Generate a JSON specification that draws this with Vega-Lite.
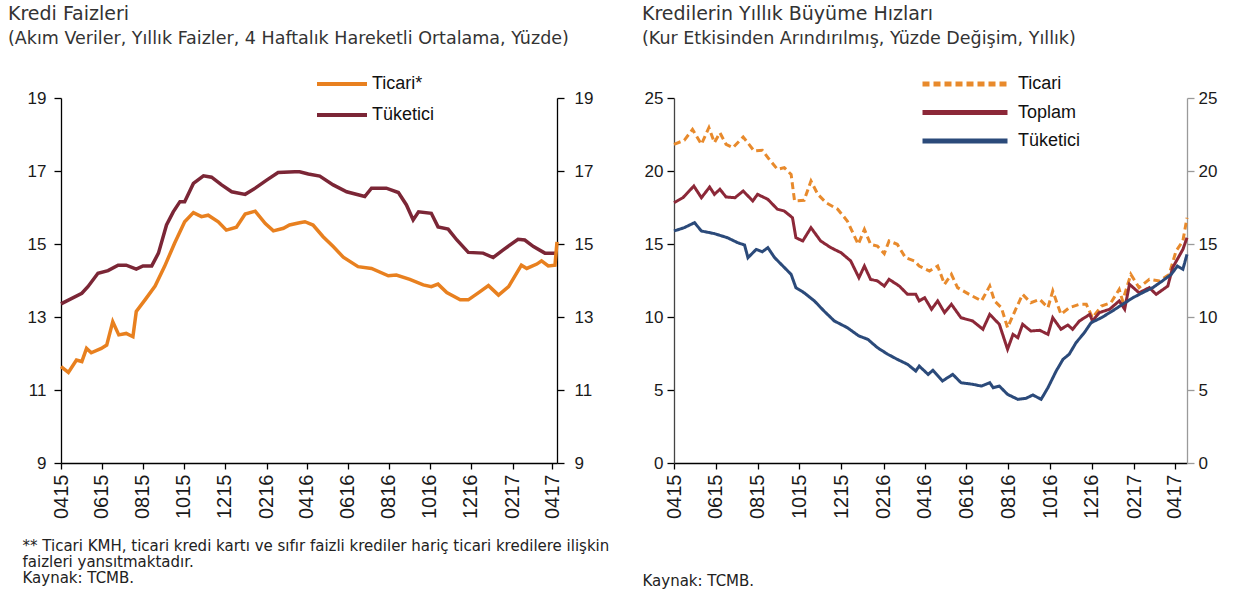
{
  "$schema": "https://vega.github.io/schema/vega-lite/v6.json",
  "background": "#ffffff",
  "autosize": {"type": "pad"},
  "padding": {"left": 8, "top": 4, "right": 5, "bottom": 5},
  "config": {
    "view": {"stroke": null},
    "concat": {"spacing": 117},
    "axis": {"grid": false, "labelFont": "Liberation Sans", "labelFontSize": 17, "labelColor": "#1a1a1a", "domainColor": "#000000", "tickColor": "#000000", "domainWidth": 1.3, "tickWidth": 1.3},
    "title": {"font": "DejaVu Sans", "subtitleFont": "DejaVu Sans", "fontWeight": "normal", "fontSize": 19, "subtitleFontSize": 17.5, "color": "#333333", "subtitleColor": "#333333", "anchor": "start", "frame": "group"}
  },
  "bounds": "flush",
  "resolve": {"scale": {"color": "independent", "strokeDash": "independent"}, "legend": {"color": "independent", "strokeDash": "independent"}},
  "datasets": {
    "faiz": [
      {"date": "2015-04-01", "series": "Tüketici", "value": 13.36},
      {"date": "2015-05-02", "series": "Tüketici", "value": 13.65},
      {"date": "2015-05-11", "series": "Tüketici", "value": 13.83},
      {"date": "2015-05-26", "series": "Tüketici", "value": 14.2},
      {"date": "2015-06-10", "series": "Tüketici", "value": 14.27},
      {"date": "2015-06-25", "series": "Tüketici", "value": 14.42},
      {"date": "2015-07-07", "series": "Tüketici", "value": 14.42},
      {"date": "2015-07-22", "series": "Tüketici", "value": 14.31},
      {"date": "2015-08-01", "series": "Tüketici", "value": 14.4},
      {"date": "2015-08-14", "series": "Tüketici", "value": 14.4},
      {"date": "2015-08-24", "series": "Tüketici", "value": 14.75},
      {"date": "2015-09-05", "series": "Tüketici", "value": 15.52},
      {"date": "2015-09-15", "series": "Tüketici", "value": 15.88},
      {"date": "2015-09-25", "series": "Tüketici", "value": 16.16},
      {"date": "2015-10-02", "series": "Tüketici", "value": 16.16},
      {"date": "2015-10-15", "series": "Tüketici", "value": 16.66},
      {"date": "2015-10-30", "series": "Tüketici", "value": 16.87},
      {"date": "2015-11-11", "series": "Tüketici", "value": 16.83},
      {"date": "2015-11-26", "series": "Tüketici", "value": 16.62},
      {"date": "2015-12-11", "series": "Tüketici", "value": 16.43},
      {"date": "2015-12-31", "series": "Tüketici", "value": 16.36},
      {"date": "2016-01-15", "series": "Tüketici", "value": 16.53},
      {"date": "2016-02-01", "series": "Tüketici", "value": 16.75},
      {"date": "2016-02-18", "series": "Tüketici", "value": 16.96},
      {"date": "2016-03-14", "series": "Tüketici", "value": 16.98},
      {"date": "2016-03-21", "series": "Tüketici", "value": 16.98},
      {"date": "2016-04-03", "series": "Tüketici", "value": 16.92},
      {"date": "2016-04-20", "series": "Tüketici", "value": 16.86},
      {"date": "2016-05-10", "series": "Tüketici", "value": 16.62},
      {"date": "2016-05-30", "series": "Tüketici", "value": 16.43},
      {"date": "2016-06-26", "series": "Tüketici", "value": 16.3},
      {"date": "2016-07-06", "series": "Tüketici", "value": 16.53},
      {"date": "2016-07-28", "series": "Tüketici", "value": 16.53},
      {"date": "2016-08-15", "series": "Tüketici", "value": 16.41},
      {"date": "2016-08-27", "series": "Tüketici", "value": 16.07},
      {"date": "2016-09-06", "series": "Tüketici", "value": 15.66},
      {"date": "2016-09-14", "series": "Tüketici", "value": 15.88},
      {"date": "2016-10-03", "series": "Tüketici", "value": 15.84},
      {"date": "2016-10-13", "series": "Tüketici", "value": 15.47},
      {"date": "2016-10-28", "series": "Tüketici", "value": 15.41},
      {"date": "2016-11-10", "series": "Tüketici", "value": 15.11},
      {"date": "2016-11-27", "series": "Tüketici", "value": 14.77},
      {"date": "2016-12-19", "series": "Tüketici", "value": 14.75},
      {"date": "2017-01-03", "series": "Tüketici", "value": 14.63},
      {"date": "2017-01-18", "series": "Tüketici", "value": 14.84},
      {"date": "2017-02-09", "series": "Tüketici", "value": 15.13},
      {"date": "2017-02-19", "series": "Tüketici", "value": 15.11},
      {"date": "2017-03-04", "series": "Tüketici", "value": 14.93},
      {"date": "2017-03-21", "series": "Tüketici", "value": 14.75},
      {"date": "2017-04-08", "series": "Tüketici", "value": 14.75},
      {"date": "2015-04-01", "series": "Ticari*", "value": 11.64},
      {"date": "2015-04-12", "series": "Ticari*", "value": 11.48},
      {"date": "2015-04-24", "series": "Ticari*", "value": 11.82},
      {"date": "2015-05-02", "series": "Ticari*", "value": 11.78},
      {"date": "2015-05-09", "series": "Ticari*", "value": 12.14},
      {"date": "2015-05-16", "series": "Ticari*", "value": 12.02},
      {"date": "2015-05-31", "series": "Ticari*", "value": 12.14},
      {"date": "2015-06-08", "series": "Ticari*", "value": 12.23},
      {"date": "2015-06-17", "series": "Ticari*", "value": 12.87},
      {"date": "2015-06-26", "series": "Ticari*", "value": 12.51},
      {"date": "2015-07-07", "series": "Ticari*", "value": 12.55},
      {"date": "2015-07-17", "series": "Ticari*", "value": 12.46},
      {"date": "2015-07-22", "series": "Ticari*", "value": 13.15},
      {"date": "2015-08-04", "series": "Ticari*", "value": 13.47},
      {"date": "2015-08-19", "series": "Ticari*", "value": 13.85},
      {"date": "2015-09-02", "series": "Ticari*", "value": 14.38},
      {"date": "2015-09-17", "series": "Ticari*", "value": 15.02},
      {"date": "2015-10-02", "series": "Ticari*", "value": 15.61},
      {"date": "2015-10-15", "series": "Ticari*", "value": 15.86},
      {"date": "2015-10-27", "series": "Ticari*", "value": 15.75},
      {"date": "2015-11-06", "series": "Ticari*", "value": 15.79},
      {"date": "2015-11-21", "series": "Ticari*", "value": 15.61},
      {"date": "2015-12-03", "series": "Ticari*", "value": 15.38},
      {"date": "2015-12-18", "series": "Ticari*", "value": 15.46},
      {"date": "2015-12-31", "series": "Ticari*", "value": 15.82},
      {"date": "2016-01-15", "series": "Ticari*", "value": 15.9},
      {"date": "2016-01-30", "series": "Ticari*", "value": 15.56},
      {"date": "2016-02-11", "series": "Ticari*", "value": 15.36},
      {"date": "2016-02-26", "series": "Ticari*", "value": 15.43},
      {"date": "2016-03-06", "series": "Ticari*", "value": 15.52},
      {"date": "2016-03-21", "series": "Ticari*", "value": 15.58},
      {"date": "2016-03-29", "series": "Ticari*", "value": 15.61},
      {"date": "2016-04-10", "series": "Ticari*", "value": 15.52},
      {"date": "2016-04-25", "series": "Ticari*", "value": 15.2},
      {"date": "2016-05-10", "series": "Ticari*", "value": 14.93},
      {"date": "2016-05-25", "series": "Ticari*", "value": 14.64},
      {"date": "2016-06-16", "series": "Ticari*", "value": 14.38},
      {"date": "2016-07-06", "series": "Ticari*", "value": 14.33},
      {"date": "2016-07-31", "series": "Ticari*", "value": 14.13},
      {"date": "2016-08-12", "series": "Ticari*", "value": 14.15},
      {"date": "2016-09-01", "series": "Ticari*", "value": 14.03},
      {"date": "2016-09-21", "series": "Ticari*", "value": 13.88},
      {"date": "2016-10-03", "series": "Ticari*", "value": 13.83},
      {"date": "2016-10-13", "series": "Ticari*", "value": 13.9},
      {"date": "2016-10-26", "series": "Ticari*", "value": 13.67},
      {"date": "2016-11-15", "series": "Ticari*", "value": 13.47},
      {"date": "2016-11-27", "series": "Ticari*", "value": 13.47},
      {"date": "2016-12-14", "series": "Ticari*", "value": 13.69},
      {"date": "2016-12-27", "series": "Ticari*", "value": 13.86},
      {"date": "2017-01-11", "series": "Ticari*", "value": 13.6},
      {"date": "2017-01-26", "series": "Ticari*", "value": 13.83},
      {"date": "2017-02-14", "series": "Ticari*", "value": 14.42},
      {"date": "2017-02-22", "series": "Ticari*", "value": 14.33},
      {"date": "2017-03-09", "series": "Ticari*", "value": 14.45},
      {"date": "2017-03-16", "series": "Ticari*", "value": 14.54},
      {"date": "2017-03-26", "series": "Ticari*", "value": 14.4},
      {"date": "2017-04-05", "series": "Ticari*", "value": 14.42},
      {"date": "2017-04-08", "series": "Ticari*", "value": 15.06}
    ],
    "buyume": [
      {"date": "2015-04-01", "series": "Ticari", "value": 21.83},
      {"date": "2015-04-16", "series": "Ticari", "value": 22.1},
      {"date": "2015-04-28", "series": "Ticari", "value": 22.85},
      {"date": "2015-05-11", "series": "Ticari", "value": 21.83},
      {"date": "2015-05-22", "series": "Ticari", "value": 22.97},
      {"date": "2015-05-30", "series": "Ticari", "value": 21.94},
      {"date": "2015-06-07", "series": "Ticari", "value": 22.62},
      {"date": "2015-06-16", "series": "Ticari", "value": 21.83},
      {"date": "2015-06-26", "series": "Ticari", "value": 21.6},
      {"date": "2015-07-11", "series": "Ticari", "value": 22.33},
      {"date": "2015-07-27", "series": "Ticari", "value": 21.37},
      {"date": "2015-08-08", "series": "Ticari", "value": 21.42},
      {"date": "2015-08-18", "series": "Ticari", "value": 20.8},
      {"date": "2015-08-30", "series": "Ticari", "value": 20.12},
      {"date": "2015-09-09", "series": "Ticari", "value": 20.23},
      {"date": "2015-09-19", "series": "Ticari", "value": 19.77},
      {"date": "2015-09-24", "series": "Ticari", "value": 17.95},
      {"date": "2015-10-08", "series": "Ticari", "value": 17.99},
      {"date": "2015-10-18", "series": "Ticari", "value": 19.32},
      {"date": "2015-10-28", "series": "Ticari", "value": 18.4},
      {"date": "2015-11-09", "series": "Ticari", "value": 17.83},
      {"date": "2015-11-26", "series": "Ticari", "value": 17.38},
      {"date": "2015-12-10", "series": "Ticari", "value": 16.58},
      {"date": "2015-12-26", "series": "Ticari", "value": 14.98},
      {"date": "2016-01-04", "series": "Ticari", "value": 16.0},
      {"date": "2016-01-13", "series": "Ticari", "value": 14.98},
      {"date": "2016-01-23", "series": "Ticari", "value": 14.86},
      {"date": "2016-02-02", "series": "Ticari", "value": 14.34},
      {"date": "2016-02-09", "series": "Ticari", "value": 15.21},
      {"date": "2016-02-21", "series": "Ticari", "value": 14.98},
      {"date": "2016-03-04", "series": "Ticari", "value": 14.06},
      {"date": "2016-03-17", "series": "Ticari", "value": 13.84},
      {"date": "2016-03-24", "series": "Ticari", "value": 13.49},
      {"date": "2016-04-08", "series": "Ticari", "value": 13.15},
      {"date": "2016-04-20", "series": "Ticari", "value": 13.49},
      {"date": "2016-04-30", "series": "Ticari", "value": 12.24},
      {"date": "2016-05-10", "series": "Ticari", "value": 12.92},
      {"date": "2016-05-19", "series": "Ticari", "value": 12.01},
      {"date": "2016-06-05", "series": "Ticari", "value": 11.55},
      {"date": "2016-06-23", "series": "Ticari", "value": 11.1},
      {"date": "2016-07-05", "series": "Ticari", "value": 12.12},
      {"date": "2016-07-12", "series": "Ticari", "value": 11.1},
      {"date": "2016-07-22", "series": "Ticari", "value": 10.64},
      {"date": "2016-07-31", "series": "Ticari", "value": 9.27},
      {"date": "2016-08-13", "series": "Ticari", "value": 10.64},
      {"date": "2016-08-22", "series": "Ticari", "value": 11.55},
      {"date": "2016-09-03", "series": "Ticari", "value": 10.98},
      {"date": "2016-09-16", "series": "Ticari", "value": 11.21},
      {"date": "2016-09-28", "series": "Ticari", "value": 10.64},
      {"date": "2016-10-05", "series": "Ticari", "value": 11.78},
      {"date": "2016-10-17", "series": "Ticari", "value": 10.18},
      {"date": "2016-10-29", "series": "Ticari", "value": 10.64},
      {"date": "2016-11-13", "series": "Ticari", "value": 10.87},
      {"date": "2016-11-23", "series": "Ticari", "value": 10.87},
      {"date": "2016-12-02", "series": "Ticari", "value": 9.95},
      {"date": "2016-12-15", "series": "Ticari", "value": 10.75},
      {"date": "2016-12-29", "series": "Ticari", "value": 10.98},
      {"date": "2017-01-10", "series": "Ticari", "value": 11.89},
      {"date": "2017-01-15", "series": "Ticari", "value": 11.1},
      {"date": "2017-01-27", "series": "Ticari", "value": 12.92},
      {"date": "2017-02-08", "series": "Ticari", "value": 12.01},
      {"date": "2017-02-23", "series": "Ticari", "value": 12.58},
      {"date": "2017-03-10", "series": "Ticari", "value": 12.47},
      {"date": "2017-03-24", "series": "Ticari", "value": 12.92},
      {"date": "2017-04-03", "series": "Ticari", "value": 14.52},
      {"date": "2017-04-13", "series": "Ticari", "value": 15.21},
      {"date": "2017-04-19", "series": "Ticari", "value": 16.8},
      {"date": "2015-04-01", "series": "Toplam", "value": 17.83},
      {"date": "2015-04-14", "series": "Toplam", "value": 18.17},
      {"date": "2015-04-30", "series": "Toplam", "value": 18.97},
      {"date": "2015-05-11", "series": "Toplam", "value": 18.17},
      {"date": "2015-05-23", "series": "Toplam", "value": 18.9},
      {"date": "2015-05-30", "series": "Toplam", "value": 18.4},
      {"date": "2015-06-07", "series": "Toplam", "value": 18.75},
      {"date": "2015-06-16", "series": "Toplam", "value": 18.22},
      {"date": "2015-06-29", "series": "Toplam", "value": 18.17},
      {"date": "2015-07-11", "series": "Toplam", "value": 18.63},
      {"date": "2015-07-25", "series": "Toplam", "value": 17.95},
      {"date": "2015-08-01", "series": "Toplam", "value": 18.4},
      {"date": "2015-08-16", "series": "Toplam", "value": 18.06},
      {"date": "2015-08-30", "series": "Toplam", "value": 17.38},
      {"date": "2015-09-09", "series": "Toplam", "value": 17.26},
      {"date": "2015-09-21", "series": "Toplam", "value": 16.8},
      {"date": "2015-09-26", "series": "Toplam", "value": 15.43},
      {"date": "2015-10-06", "series": "Toplam", "value": 15.21},
      {"date": "2015-10-18", "series": "Toplam", "value": 16.12},
      {"date": "2015-11-01", "series": "Toplam", "value": 15.21},
      {"date": "2015-11-16", "series": "Toplam", "value": 14.75},
      {"date": "2015-12-01", "series": "Toplam", "value": 14.4},
      {"date": "2015-12-15", "series": "Toplam", "value": 13.84},
      {"date": "2015-12-27", "series": "Toplam", "value": 12.69},
      {"date": "2016-01-04", "series": "Toplam", "value": 13.49},
      {"date": "2016-01-13", "series": "Toplam", "value": 12.58},
      {"date": "2016-01-23", "series": "Toplam", "value": 12.47},
      {"date": "2016-02-02", "series": "Toplam", "value": 12.12},
      {"date": "2016-02-09", "series": "Toplam", "value": 12.58},
      {"date": "2016-02-24", "series": "Toplam", "value": 12.12},
      {"date": "2016-03-07", "series": "Toplam", "value": 11.55},
      {"date": "2016-03-19", "series": "Toplam", "value": 11.55},
      {"date": "2016-03-24", "series": "Toplam", "value": 11.1},
      {"date": "2016-04-01", "series": "Toplam", "value": 11.32},
      {"date": "2016-04-11", "series": "Toplam", "value": 10.53},
      {"date": "2016-04-20", "series": "Toplam", "value": 11.1},
      {"date": "2016-04-30", "series": "Toplam", "value": 10.3},
      {"date": "2016-05-10", "series": "Toplam", "value": 10.87},
      {"date": "2016-05-24", "series": "Toplam", "value": 9.95},
      {"date": "2016-06-10", "series": "Toplam", "value": 9.73},
      {"date": "2016-06-25", "series": "Toplam", "value": 9.16},
      {"date": "2016-07-05", "series": "Toplam", "value": 10.18},
      {"date": "2016-07-19", "series": "Toplam", "value": 9.5},
      {"date": "2016-07-31", "series": "Toplam", "value": 7.79},
      {"date": "2016-08-08", "series": "Toplam", "value": 8.81},
      {"date": "2016-08-15", "series": "Toplam", "value": 8.58},
      {"date": "2016-08-22", "series": "Toplam", "value": 9.5},
      {"date": "2016-09-03", "series": "Toplam", "value": 9.04},
      {"date": "2016-09-16", "series": "Toplam", "value": 9.09},
      {"date": "2016-09-28", "series": "Toplam", "value": 8.81},
      {"date": "2016-10-05", "series": "Toplam", "value": 9.95},
      {"date": "2016-10-17", "series": "Toplam", "value": 9.16},
      {"date": "2016-10-27", "series": "Toplam", "value": 9.45},
      {"date": "2016-11-03", "series": "Toplam", "value": 9.16},
      {"date": "2016-11-13", "series": "Toplam", "value": 9.73},
      {"date": "2016-11-28", "series": "Toplam", "value": 10.18},
      {"date": "2016-12-02", "series": "Toplam", "value": 9.73},
      {"date": "2016-12-12", "series": "Toplam", "value": 10.3},
      {"date": "2016-12-27", "series": "Toplam", "value": 10.53},
      {"date": "2017-01-10", "series": "Toplam", "value": 11.1},
      {"date": "2017-01-18", "series": "Toplam", "value": 10.53},
      {"date": "2017-01-25", "series": "Toplam", "value": 12.24},
      {"date": "2017-02-08", "series": "Toplam", "value": 11.66},
      {"date": "2017-02-23", "series": "Toplam", "value": 12.01},
      {"date": "2017-03-05", "series": "Toplam", "value": 11.55},
      {"date": "2017-03-22", "series": "Toplam", "value": 12.12},
      {"date": "2017-03-29", "series": "Toplam", "value": 13.38},
      {"date": "2017-04-13", "series": "Toplam", "value": 14.63},
      {"date": "2017-04-19", "series": "Toplam", "value": 15.43},
      {"date": "2015-04-01", "series": "Tüketici", "value": 15.89},
      {"date": "2015-04-16", "series": "Tüketici", "value": 16.12},
      {"date": "2015-05-01", "series": "Tüketici", "value": 16.46},
      {"date": "2015-05-11", "series": "Tüketici", "value": 15.89},
      {"date": "2015-05-30", "series": "Tüketici", "value": 15.71},
      {"date": "2015-06-18", "series": "Tüketici", "value": 15.43},
      {"date": "2015-07-03", "series": "Tüketici", "value": 15.09},
      {"date": "2015-07-13", "series": "Tüketici", "value": 14.93},
      {"date": "2015-07-18", "series": "Tüketici", "value": 14.06},
      {"date": "2015-07-30", "series": "Tüketici", "value": 14.63},
      {"date": "2015-08-08", "series": "Tüketici", "value": 14.47},
      {"date": "2015-08-16", "series": "Tüketici", "value": 14.75},
      {"date": "2015-08-26", "series": "Tüketici", "value": 14.06},
      {"date": "2015-09-07", "series": "Tüketici", "value": 13.49},
      {"date": "2015-09-19", "series": "Tüketici", "value": 12.92},
      {"date": "2015-09-26", "series": "Tüketici", "value": 12.01},
      {"date": "2015-10-08", "series": "Tüketici", "value": 11.66},
      {"date": "2015-10-23", "series": "Tüketici", "value": 11.1},
      {"date": "2015-11-06", "series": "Tüketici", "value": 10.41},
      {"date": "2015-11-21", "series": "Tüketici", "value": 9.73},
      {"date": "2015-12-10", "series": "Tüketici", "value": 9.27},
      {"date": "2015-12-27", "series": "Tüketici", "value": 8.7},
      {"date": "2016-01-09", "series": "Tüketici", "value": 8.47},
      {"date": "2016-01-23", "series": "Tüketici", "value": 7.9},
      {"date": "2016-02-07", "series": "Tüketici", "value": 7.45},
      {"date": "2016-02-21", "series": "Tüketici", "value": 7.1},
      {"date": "2016-03-07", "series": "Tüketici", "value": 6.76},
      {"date": "2016-03-19", "series": "Tüketici", "value": 6.3},
      {"date": "2016-03-24", "series": "Tüketici", "value": 6.64},
      {"date": "2016-04-06", "series": "Tüketici", "value": 6.07},
      {"date": "2016-04-13", "series": "Tüketici", "value": 6.35},
      {"date": "2016-04-27", "series": "Tüketici", "value": 5.62},
      {"date": "2016-05-12", "series": "Tüketici", "value": 6.07},
      {"date": "2016-05-24", "series": "Tüketici", "value": 5.5},
      {"date": "2016-06-10", "series": "Tüketici", "value": 5.39},
      {"date": "2016-06-23", "series": "Tüketici", "value": 5.27},
      {"date": "2016-07-05", "series": "Tüketici", "value": 5.5},
      {"date": "2016-07-10", "series": "Tüketici", "value": 5.16},
      {"date": "2016-07-19", "series": "Tüketici", "value": 5.27},
      {"date": "2016-07-31", "series": "Tüketici", "value": 4.7},
      {"date": "2016-08-15", "series": "Tüketici", "value": 4.36},
      {"date": "2016-08-27", "series": "Tüketici", "value": 4.43},
      {"date": "2016-09-06", "series": "Tüketici", "value": 4.66},
      {"date": "2016-09-18", "series": "Tüketici", "value": 4.36},
      {"date": "2016-09-28", "series": "Tüketici", "value": 5.16},
      {"date": "2016-10-10", "series": "Tüketici", "value": 6.3},
      {"date": "2016-10-20", "series": "Tüketici", "value": 7.1},
      {"date": "2016-10-29", "series": "Tüketici", "value": 7.45},
      {"date": "2016-11-08", "series": "Tüketici", "value": 8.24},
      {"date": "2016-11-20", "series": "Tüketici", "value": 8.92},
      {"date": "2016-11-30", "series": "Tüketici", "value": 9.61},
      {"date": "2016-12-15", "series": "Tüketici", "value": 9.95},
      {"date": "2016-12-31", "series": "Tüketici", "value": 10.41},
      {"date": "2017-01-15", "series": "Tüketici", "value": 10.87},
      {"date": "2017-01-30", "series": "Tüketici", "value": 11.32},
      {"date": "2017-02-13", "series": "Tüketici", "value": 11.66},
      {"date": "2017-02-28", "series": "Tüketici", "value": 12.01},
      {"date": "2017-03-14", "series": "Tüketici", "value": 12.47},
      {"date": "2017-03-27", "series": "Tüketici", "value": 12.92},
      {"date": "2017-04-05", "series": "Tüketici", "value": 13.49},
      {"date": "2017-04-13", "series": "Tüketici", "value": 13.27},
      {"date": "2017-04-19", "series": "Tüketici", "value": 14.29}
    ]
  },
  "hconcat": [
    {
      "width": 496,
      "height": 365,
      "data": {"name": "faiz"},
      "title": {
        "text": "Kredi Faizleri",
        "subtitle": "(Akım Veriler, Yıllık Faizler, 4 Haftalık Hareketli Ortalama, Yüzde)",
        "dx": -53,
        "offset": 27,
        "subtitlePadding": 6
      },
      "encoding": {
        "x": {
          "field": "date", "type": "temporal",
          "scale": {"type": "utc", "domain": [{"year": 2015, "month": 4, "date": 1, "utc": true}, {"year": 2017, "month": 4, "date": 8, "utc": true}]},
          "axis": {
            "values": [
              {"year": 2015, "month": 4, "date": 1, "utc": true}, {"year": 2015, "month": 6, "date": 1, "utc": true},
              {"year": 2015, "month": 8, "date": 1, "utc": true}, {"year": 2015, "month": 10, "date": 1, "utc": true},
              {"year": 2015, "month": 12, "date": 1, "utc": true}, {"year": 2016, "month": 2, "date": 1, "utc": true},
              {"year": 2016, "month": 4, "date": 1, "utc": true}, {"year": 2016, "month": 6, "date": 1, "utc": true},
              {"year": 2016, "month": 8, "date": 1, "utc": true}, {"year": 2016, "month": 10, "date": 1, "utc": true},
              {"year": 2016, "month": 12, "date": 1, "utc": true}, {"year": 2017, "month": 2, "date": 1, "utc": true},
              {"year": 2017, "month": 4, "date": 1, "utc": true}
            ],
            "format": "%m%y",
            "labelAngle": 270, "labelFontSize": 20, "tickSize": 6, "labelPadding": 5,
            "title": ["** Ticari KMH, ticari kredi kartı ve sıfır faizli krediler hariç ticari kredilere ilişkin", "faizleri yansıtmaktadır.", "Kaynak: TCMB."],
            "titleFont": "DejaVu Sans", "titleFontSize": 15, "titleFontWeight": "normal", "titleColor": "#222222",
            "titleAnchor": "start", "titleAlign": "left", "titleBaseline": "top", "titleX": -39, "titleY": 75, "titleLineHeight": 16
          }
        }
      },
      "layer": [
        {
          "mark": {"type": "line", "strokeWidth": 3.5},
          "encoding": {
            "y": {
              "field": "value", "type": "quantitative",
              "scale": {"domain": [9, 19], "nice": false, "zero": false},
              "axis": {"orient": "left", "values": [9, 11, 13, 15, 17, 19], "title": null, "tickSize": 7, "labelPadding": 8}
            },
            "color": {
              "field": "series", "type": "nominal",
              "scale": {"domain": ["Ticari*", "Tüketici"], "range": ["#E8801F", "#7B2636"]},
              "legend": {
                "title": null, "orient": "none", "legendX": 254, "legendY": -24,
                "symbolType": "stroke", "symbolSize": 2500, "symbolStrokeWidth": 4,
                "labelFont": "Liberation Sans", "labelFontSize": 18, "labelColor": "#111111",
                "labelOffset": 3, "clipHeight": 20, "rowPadding": 11
              }
            }
          }
        },
        {
          "mark": {"type": "line", "opacity": 0},
          "encoding": {
            "y": {
              "field": "value", "type": "quantitative",
              "scale": {"domain": [9, 19], "nice": false, "zero": false},
              "axis": {"orient": "right", "values": [9, 11, 13, 15, 17, 19], "title": null, "tickSize": 7, "labelPadding": 10}
            },
            "detail": {"field": "series"}
          }
        }
      ],
      "resolve": {"scale": {"y": "independent"}}
    },
    {
      "width": 513,
      "height": 365,
      "data": {"name": "buyume"},
      "title": {
        "text": "Kredilerin Yıllık Büyüme Hızları",
        "subtitle": "(Kur Etkisinden Arındırılmış, Yüzde Değişim, Yıllık)",
        "dx": -32,
        "offset": 27,
        "subtitlePadding": 6
      },
      "encoding": {
        "x": {
          "field": "date", "type": "temporal",
          "scale": {"type": "utc", "domain": [{"year": 2015, "month": 4, "date": 1, "utc": true}, {"year": 2017, "month": 4, "date": 19, "utc": true}]},
          "axis": {
            "values": [
              {"year": 2015, "month": 4, "date": 1, "utc": true}, {"year": 2015, "month": 6, "date": 1, "utc": true},
              {"year": 2015, "month": 8, "date": 1, "utc": true}, {"year": 2015, "month": 10, "date": 1, "utc": true},
              {"year": 2015, "month": 12, "date": 1, "utc": true}, {"year": 2016, "month": 2, "date": 1, "utc": true},
              {"year": 2016, "month": 4, "date": 1, "utc": true}, {"year": 2016, "month": 6, "date": 1, "utc": true},
              {"year": 2016, "month": 8, "date": 1, "utc": true}, {"year": 2016, "month": 10, "date": 1, "utc": true},
              {"year": 2016, "month": 12, "date": 1, "utc": true}, {"year": 2017, "month": 2, "date": 1, "utc": true},
              {"year": 2017, "month": 4, "date": 1, "utc": true}
            ],
            "format": "%m%y",
            "labelAngle": 270, "labelFontSize": 20, "tickSize": 6, "labelPadding": 5,
            "title": "Kaynak: TCMB.",
            "titleFont": "DejaVu Sans", "titleFontSize": 15, "titleFontWeight": "normal", "titleColor": "#222222",
            "titleAnchor": "start", "titleAlign": "left", "titleBaseline": "top", "titleX": -32, "titleY": 110
          }
        }
      },
      "layer": [
        {
          "mark": {"type": "line", "strokeWidth": 3},
          "encoding": {
            "y": {
              "field": "value", "type": "quantitative",
              "scale": {"domain": [0, 25], "nice": false},
              "axis": {"orient": "left", "values": [0, 5, 10, 15, 20, 25], "title": null, "tickSize": 7, "labelPadding": 4, "domainColor": "#444444"}
            },
            "color": {
              "field": "series", "type": "nominal",
              "scale": {"domain": ["Ticari", "Toplam", "Tüketici"], "range": ["#E88A2C", "#8C2838", "#2B4A7A"]},
              "legend": {
                "title": null, "orient": "none", "legendX": 246, "legendY": -24,
                "symbolType": "stroke", "symbolSize": 7225, "symbolStrokeWidth": 5,
                "labelFont": "Liberation Sans", "labelFontSize": 18, "labelColor": "#111111",
                "labelOffset": 8, "clipHeight": 20, "rowPadding": 8.5
              }
            },
            "strokeDash": {
              "field": "series", "type": "nominal",
              "scale": {"domain": ["Ticari", "Toplam", "Tüketici"], "range": [[7, 4], [1, 0], [1, 0]]},
              "legend": {
                "title": null, "orient": "none", "legendX": 246, "legendY": -24,
                "symbolType": "stroke", "symbolSize": 7225, "symbolStrokeWidth": 5,
                "labelFont": "Liberation Sans", "labelFontSize": 18, "labelColor": "#111111",
                "labelOffset": 8, "clipHeight": 20, "rowPadding": 8.5
              }
            }
          }
        },
        {
          "mark": {"type": "line", "opacity": 0},
          "encoding": {
            "y": {
              "field": "value", "type": "quantitative",
              "scale": {"domain": [0, 25], "nice": false},
              "axis": {"orient": "right", "values": [0, 5, 10, 15, 20, 25], "title": null, "tickSize": 7, "labelPadding": 4, "domainColor": "#9a9a9a", "tickColor": "#9a9a9a"}
            },
            "detail": {"field": "series"}
          }
        }
      ],
      "resolve": {"scale": {"y": "independent"}}
    }
  ]
}
